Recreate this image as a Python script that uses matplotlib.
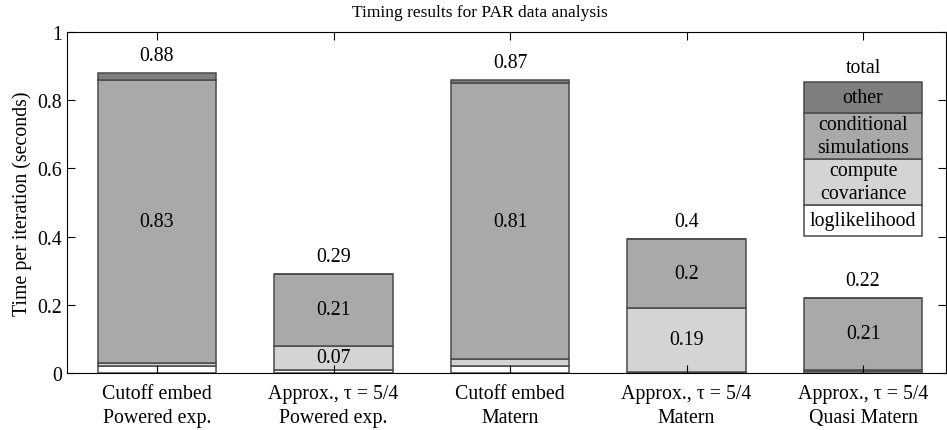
import numpy as np
import matplotlib.pyplot as plt

plt.rcParams['font.family'] = ['Liberation Serif', 'DejaVu Serif']

# methods and timing parts (seconds per iteration)
methods = ['Cutoff embed\nPowered exp.', 'Approx., \u03c4 = 5/4\nPowered exp.',
           'Cutoff embed\nMatern', 'Approx., \u03c4 = 5/4\nMatern',
           'Approx., \u03c4 = 5/4\nQuasi Matern']
loglik = [0.02, 0.01, 0.02, 0.002, 0.005]
covariance = [0.01, 0.07, 0.02, 0.19, 0.005]
cond_sim = [0.83, 0.21, 0.81, 0.20, 0.21]
other = [0.02, 0.0, 0.01, 0.0, 0.0]
totals = [0.88, 0.29, 0.87, 0.4, 0.22]

parts = ['loglikelihood', 'compute\ncovariance', 'conditional\nsimulations', 'other']
colors = ['white', '#d4d4d4', '#a9a9a9', '#7f7f7f']
edge = '#4a4a4a'
fs = 14.3

fig = plt.figure(figsize=(9.47, 4.31), dpi=100)
ax = fig.add_axes([0.0707, 0.1323, 0.9283, 0.7911])

x = np.arange(1, len(methods) + 1)
w = 0.67
bottom = np.zeros(len(methods))
for vals, c in zip([loglik, covariance, cond_sim, other], colors):
    vals = np.array(vals)
    ax.bar(x, vals, w, bottom=bottom, color=c, edgecolor=edge, linewidth=1.1)
    for xi, b, v in zip(x, bottom, vals):
        if v >= 0.05:
            ax.text(xi, b + v / 2, '{:g}'.format(v), ha='center', va='center', fontsize=fs)
    bottom += vals

for xi, top, t in zip(x, bottom, totals):
    ax.text(xi, top + 0.052, '{:g}'.format(t), ha='center', va='center', fontsize=fs)

# legend drawn as a stacked box in the empty space above the last bar
leg_heights = [0.09, 0.135, 0.135, 0.09]
lb = 0.402
for h, c, name in zip(leg_heights, colors, parts):
    ax.bar(5, h, w, bottom=lb, color=c, edgecolor=edge, linewidth=1.1)
    ax.text(5, lb + h / 2, name, ha='center', va='center', fontsize=fs, linespacing=1.25)
    lb += h
ax.text(5, lb + 0.045, 'total', ha='center', va='center', fontsize=fs)

ax.set_xlim(0.49, 5.47)
ax.set_ylim(0, 1)
ax.set_xticks(x)
ax.set_xticklabels(methods, fontsize=fs, linespacing=1.35)
ax.set_yticks([0, 0.2, 0.4, 0.6, 0.8, 1])
ax.set_yticklabels(['0', '0.2', '0.4', '0.6', '0.8', '1'], fontsize=fs)
ax.tick_params(direction='in', top=True, right=True, length=6, width=0.8)
ax.tick_params(axis='x', pad=8)
ax.set_ylabel('Time per iteration (seconds)', fontsize=fs)
fig.text(0.507, 0.97, 'Timing results for PAR data analysis', ha='center', va='center', fontsize=12.5)

fig.savefig('out.png', dpi=100)
